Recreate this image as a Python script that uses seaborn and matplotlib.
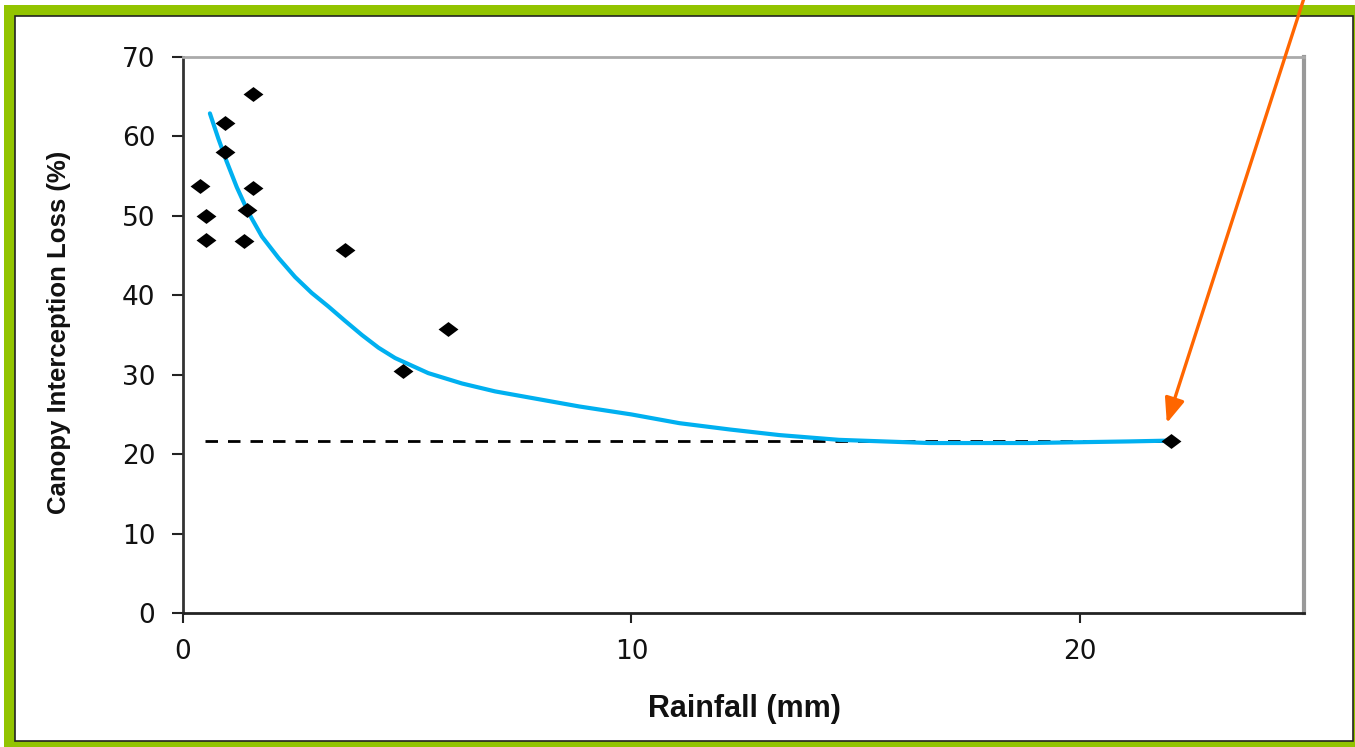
import matplotlib
matplotlib.use("Agg")
import matplotlib.pyplot as plt
from matplotlib.patches import Rectangle
from matplotlib.path import Path
import seaborn as sns
import pandas as pd

# Measured canopy interception loss per rainfall event
rainfall_mm = [0.38, 0.51, 0.51, 0.94, 0.94, 1.57, 1.57, 1.42, 1.37, 3.61, 4.91, 5.91, 22.03]
interception_pct = [53.8, 50.0, 47.0, 61.7, 58.0, 65.4, 53.5, 50.7, 46.8, 45.7, 30.5, 35.8, 21.7]

# Fitted trend of interception loss against rainfall
trend_x = [0.60, 0.79, 0.97, 1.20, 1.46, 1.76, 2.13, 2.50, 2.87, 3.24, 3.61, 3.99,
           4.36, 4.73, 5.47, 6.22, 6.96, 8.84, 10.0, 11.07, 12.2, 13.30, 14.63,
           16.64, 18.86, 21.09, 21.98]
trend_y = [62.9, 59.7, 56.9, 53.6, 50.4, 47.4, 44.7, 42.3, 40.3, 38.6, 36.8, 35.0,
           33.4, 32.1, 30.2, 28.9, 27.9, 26.0, 25.0, 23.9, 23.1, 22.4, 21.8,
           21.4, 21.4, 21.6, 21.7]

# Large-storm interception level (dashed reference)
ref_x = [0.5, 22.0]
ref_level = 21.6

x_ticks = [0, 10, 20]
y_ticks = [0, 10, 20, 30, 40, 50, 60, 70]

sns.set_theme(style="ticks")
plt.rcParams["font.family"] = ["Liberation Sans", "DejaVu Sans"]

W, H = 1355, 747
fig = plt.figure(figsize=(W / 100, H / 100), dpi=100)
fig.patch.set_facecolor("white")

# Green frame around a white panel
fig.patches.append(Rectangle((4 / W, 0), 1 - 4 / W, (H - 5) / H, transform=fig.transFigure,
                             facecolor="#92c400", edgecolor="none", zorder=-3))
fig.patches.append(Rectangle((15 / W, 6 / H), (1353 - 15) / W, (731 - 6) / H,
                             transform=fig.transFigure, facecolor="white",
                             edgecolor="#222222", linewidth=1.2, zorder=-2))

ax = fig.add_axes([183 / W, (H - 613) / H, (1304 - 183) / W, (613 - 57) / H])
ax.set_zorder(1)
ax.set_facecolor("white")

# Reference level
sns.lineplot(x=ref_x, y=[ref_level, ref_level], ax=ax, color="black", linewidth=2.0,
             linestyle=(0, (4.5, 3.6)), zorder=2)

# Trend curve
trend = pd.DataFrame({"x": trend_x, "y": trend_y})
sns.lineplot(data=trend, x="x", y="y", ax=ax, sort=False, color="#00b0f0",
             linewidth=3.0, zorder=3)

# Observations as flattened diamonds
diamond = Path([(-1, 0), (0, 0.75), (1, 0), (0, -0.75), (-1, 0)],
               [Path.MOVETO, Path.LINETO, Path.LINETO, Path.LINETO, Path.CLOSEPOLY])
obs = pd.DataFrame({"rain": rainfall_mm, "loss": interception_pct})
sns.scatterplot(data=obs, x="rain", y="loss", ax=ax, marker=diamond, s=205,
                color="black", linewidth=0, zorder=4)

ax.set_xlim(0, 25)
ax.set_ylim(0, 70)
ax.set_xticks(x_ticks)
ax.set_yticks(y_ticks)
ax.set_xticklabels([str(v) for v in x_ticks])
ax.set_yticklabels([str(v) for v in y_ticks])
ax.tick_params(axis="both", direction="out", colors="#222222", width=1.5,
               labelsize=19, labelcolor="#111111")
ax.tick_params(axis="y", length=8, pad=12)
ax.tick_params(axis="x", length=7, pad=12)
for lbl in ax.get_xticklabels() + ax.get_yticklabels():
    lbl.set_family(["DejaVu Sans"])

ax.spines["left"].set_color("#333333")
ax.spines["left"].set_linewidth(2.0)
ax.spines["bottom"].set_color("#222222")
ax.spines["bottom"].set_linewidth(2.0)
ax.spines["top"].set_color("#aaaaaa")
ax.spines["top"].set_linewidth(2.0)
ax.spines["right"].set_color("#999999")
ax.spines["right"].set_linewidth(3.0)

ax.set_xlabel("Rainfall (mm)", fontsize=22, fontweight="bold", color="#111111")
ax.set_ylabel("Canopy Interception Loss (%)", fontsize=18.5, fontweight="bold",
              color="#111111")
ax.xaxis.set_label_coords(0.501, -0.145)
ax.yaxis.set_label_coords(-0.100, 0.505)

# Arrow pointing at the largest storm
ax.annotate("", xy=(21.94, 23.9), xycoords="data",
            xytext=(1306 / W, 1 + 8 / H), textcoords="figure fraction",
            arrowprops=dict(arrowstyle="-|>,head_length=1.5,head_width=0.6",
                            mutation_scale=10, color="#ff6600", lw=2.4,
                            shrinkA=0, shrinkB=0),
            annotation_clip=False, zorder=6)

fig.savefig("out.png", dpi=100, facecolor="white")
